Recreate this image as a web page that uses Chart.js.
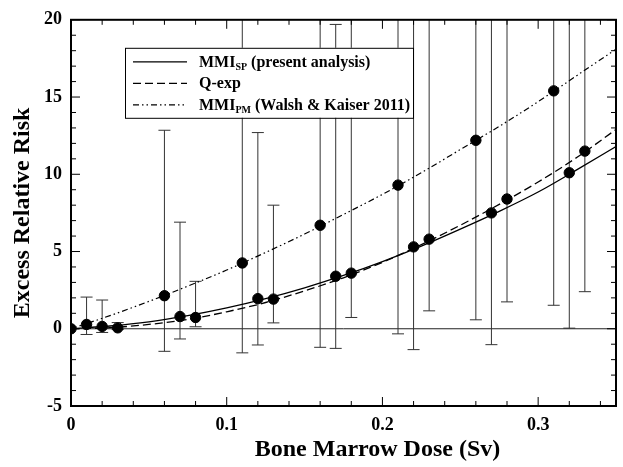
<!DOCTYPE html>
<html>
<head>
<meta charset="utf-8">
<script src="https://cdn.jsdelivr.net/npm/chart.js@4.4.1/dist/chart.umd.min.js"></script>
<style>
html,body{margin:0;padding:0;background:#fff}
</style>
</head>
<body>
<canvas id="errChart" width="623" height="467"></canvas>
<script>
// measured points (dose in Sv, excess relative risk)
var doses   = [0, 0.01, 0.02, 0.03, 0.06, 0.07, 0.08, 0.11, 0.12, 0.13, 0.16, 0.17, 0.18, 0.21, 0.22, 0.23, 0.26, 0.27, 0.28, 0.31, 0.32, 0.33];
var errVals = [0, 0.28, 0.15, 0.06, 2.14, 0.79, 0.73, 4.26, 1.95, 1.92, 6.7, 3.4, 3.6, 9.3, 5.3, 5.8, 12.2, 7.5, 8.4, 15.4, 10.1, 11.5];
var errLow  = [null, -0.37, -0.24, -0.05, -1.46, -0.66, 0.13, -1.56, -1.05, 0.38, -1.2, -1.27, 0.73, -0.33, -1.35, 1.16, 0.58, -1.03, 1.74, 1.52, 0.04, 2.4];
var errHigh = [null, 2.05, 1.86, 0.4, 12.85, 6.9, 3.07, 25, 12.7, 8.0, 25, 19.7, 25, 25, 25, 25, 25, 25, 25, 25, 25, 25];

// model curves
var curveDose = [0, 0.025, 0.05, 0.075, 0.1, 0.125, 0.15, 0.175, 0.2, 0.225, 0.25, 0.275, 0.3, 0.325, 0.35];
var mmiSP     = [0, 0.18, 0.45, 0.85, 1.35, 1.95, 2.65, 3.45, 4.35, 5.35, 6.45, 7.6, 8.85, 10.3, 11.8];
var qExp      = [0, 0.07, 0.28, 0.6, 1.1, 1.7, 2.45, 3.3, 4.3, 5.45, 6.7, 8.05, 9.5, 11.1, 12.9];
var mmiPM     = [0, 0.85, 1.77, 2.76, 3.8, 4.94, 6.13, 7.4, 8.7, 10.1, 11.6, 13.1, 14.7, 16.4, 18.1];

var xTicks = [0, 0.1, 0.2, 0.3];
var xTickLabels = ["0", "0.1", "0.2", "0.3"];
var yTicks = [-5, 0, 5, 10, 15, 20];
var yTickLabels = ["-5", "0", "5", "10", "15", "20"];
var xTitle = 'Bone Marrow Dose (Sv)';
var yTitle = 'Excess Relative Risk';

var serif = "'Liberation Serif', 'Times New Roman', serif";
Chart.defaults.font.family = serif;
Chart.defaults.color = '#000';

function pts(xs, ys){
    return xs.map(function(x,i){ return {x:x, y:ys[i]}; });
}

var barPts = [];
for(i=0;i<doses.length;i++){
    if(errLow[i]===null) continue;
    barPts.push({x:doses[i], y:errLow[i]});
    barPts.push({x:doses[i], y:errHigh[i]});
    barPts.push({x:doses[i], y:null});
}

var dashDot = [6, 3, 1.5, 3, 1.5, 3];

// zero line, frame with inward ticks, x title (sits right of centre in the original)
var framePlugin = {
    id: 'frame',
    beforeDatasetsDraw: function(chart){
        var ctx = chart.ctx, a = chart.chartArea;
        var y0 = chart.scales.y.getPixelForValue(0);
        ctx.save();
        ctx.strokeStyle = '#222';
        ctx.lineWidth = 1;
        ctx.beginPath();
        ctx.moveTo(a.left, y0);
        ctx.lineTo(a.right, y0);
        ctx.stroke();
        ctx.restore();
    },
    afterDraw: function(chart){
        var ctx = chart.ctx, a = chart.chartArea;
        var xs = chart.scales.x, ys = chart.scales.y;
        ctx.save();
        ctx.strokeStyle = '#000';
        ctx.lineWidth = 1;
        ctx.beginPath();
        for(var v=-5; v<=20; v++){
            var p = ys.getPixelForValue(v);
            var len = (v%5===0) ? 9 : 5;
            ctx.moveTo(a.left, p); ctx.lineTo(a.left+len, p);
            ctx.moveTo(a.right, p); ctx.lineTo(a.right-len, p);
        }
        for(var k=0; k<=17; k++){
            var q = xs.getPixelForValue(k*0.02);
            var l2 = (k%5===0) ? 9 : 5;
            ctx.moveTo(q, a.bottom); ctx.lineTo(q, a.bottom-l2);
            ctx.moveTo(q, a.top); ctx.lineTo(q, a.top+l2);
        }
        ctx.stroke();
        ctx.lineWidth = 2;
        ctx.strokeRect(a.left, a.top, a.right-a.left, a.bottom-a.top);

        ctx.fillStyle = '#000';
        ctx.font = 'bold 24px ' + serif;
        ctx.textAlign = 'center';
        ctx.textBaseline = 'middle';
        ctx.fillText(xTitle, (a.left+a.right)/2 + 34, a.bottom + 44);
        ctx.restore();
    }
};

// legend box with subscripts
var legendItems = [
    {main:'MMI', sub:'SP', rest:' (present analysis)', dash:[]},
    {main:'Q-exp', sub:'', rest:'', dash:[8,4]},
    {main:'MMI', sub:'PM', rest:' (Walsh & Kaiser 2011)', dash:dashDot}
];
var legendPlugin = {
    id: 'subLegend',
    afterDatasetsDraw: function(chart){
        var ctx = chart.ctx, a = chart.chartArea;
        var bx = a.left+54, by = a.top+28, bw = 288, bh = 70;
        ctx.save();
        ctx.fillStyle = '#fff';
        ctx.fillRect(bx, by, bw, bh);
        ctx.strokeStyle = '#000';
        ctx.lineWidth = 1;
        ctx.strokeRect(bx+0.5, by+0.5, bw, bh);
        legendItems.forEach(function(it, i){
            var ry = by + 14 + i*21.5;
            ctx.setLineDash(it.dash);
            ctx.lineWidth = 1.3;
            ctx.beginPath();
            ctx.moveTo(bx+8, ry); ctx.lineTo(bx+62, ry);
            ctx.stroke();
            ctx.setLineDash([]);
            ctx.fillStyle = '#000';
            ctx.textBaseline = 'alphabetic';
            var tx = bx+74, base = ry+5;
            ctx.font = 'bold 16px ' + serif;
            ctx.fillText(it.main, tx, base);
            tx += ctx.measureText(it.main).width;
            if(it.sub){
                ctx.font = 'bold 10px ' + serif;
                ctx.fillText(it.sub, tx, base+3.5);
                tx += ctx.measureText(it.sub).width;
            }
            ctx.font = 'bold 16px ' + serif;
            ctx.fillText(it.rest, tx, base);
        });
        ctx.restore();
    }
};

var chart = new Chart(document.getElementById('errChart').getContext('2d'), {
    type: 'scatter',
    data: {
        datasets: [
            {
                label: 'data',
                data: pts(doses, errVals),
                pointRadius: 5.2,
                pointBackgroundColor: '#000',
                pointBorderColor: '#000',
                showLine: false,
                order: 0
            },
            {
                label: 'MMI SP',
                data: pts(curveDose, mmiSP),
                showLine: true,
                borderColor: '#000',
                borderWidth: 1.3,
                pointRadius: 0,
                cubicInterpolationMode: 'monotone',
                order: 1
            },
            {
                label: 'Q-exp',
                data: pts(curveDose, qExp),
                showLine: true,
                borderColor: '#000',
                borderWidth: 1.3,
                borderDash: [8,4],
                pointRadius: 0,
                cubicInterpolationMode: 'monotone',
                order: 1
            },
            {
                label: 'MMI PM',
                data: pts(curveDose, mmiPM),
                showLine: true,
                borderColor: '#000',
                borderWidth: 1.2,
                borderDash: dashDot,
                pointRadius: 0,
                cubicInterpolationMode: 'monotone',
                order: 1
            },
            {
                label: 'error bars',
                data: barPts,
                showLine: true,
                spanGaps: false,
                borderColor: '#333',
                borderWidth: 1,
                pointStyle: 'line',
                pointRadius: 6,
                pointBorderColor: '#333',
                pointBorderWidth: 1,
                order: 2
            }
        ]
    },
    options: {
        responsive: false,
        animation: false,
        events: [],
        layout: { padding: {top: 17, right: 1, left: 0, bottom: 0} },
        plugins: { legend: {display: false}, tooltip: {enabled: false} },
        scales: {
            x: {
                type: 'linear',
                min: 0,
                max: 0.35,
                grid: {display: false, drawTicks: false},
                border: {display: false},
                afterBuildTicks: function(scale){ scale.ticks = xTicks.map(function(v){ return {value:v}; }); },
                afterFit: function(scale){ scale.height = 61; },
                ticks: {
                    padding: 9,
                    font: {size: 18, weight: 'bold'},
                    callback: function(v, i){ return xTickLabels[i]; }
                },
                title: {display: false}
            },
            y: {
                min: -5,
                max: 20,
                grid: {display: false, drawTicks: false},
                border: {display: false},
                afterBuildTicks: function(scale){ scale.ticks = yTicks.map(function(v){ return {value:v}; }); },
                afterFit: function(scale){ scale.width = 71; },
                ticks: {
                    padding: 9,
                    font: {size: 18, weight: 'bold'},
                    callback: function(v, i){ return yTickLabels[i]; }
                },
                title: {
                    display: true,
                    text: yTitle,
                    font: {size: 24, weight: 'bold'},
                    padding: {top: 8, bottom: 0}
                }
            }
        }
    },
    plugins: [framePlugin, legendPlugin]
});
</script>
</body>
</html>
